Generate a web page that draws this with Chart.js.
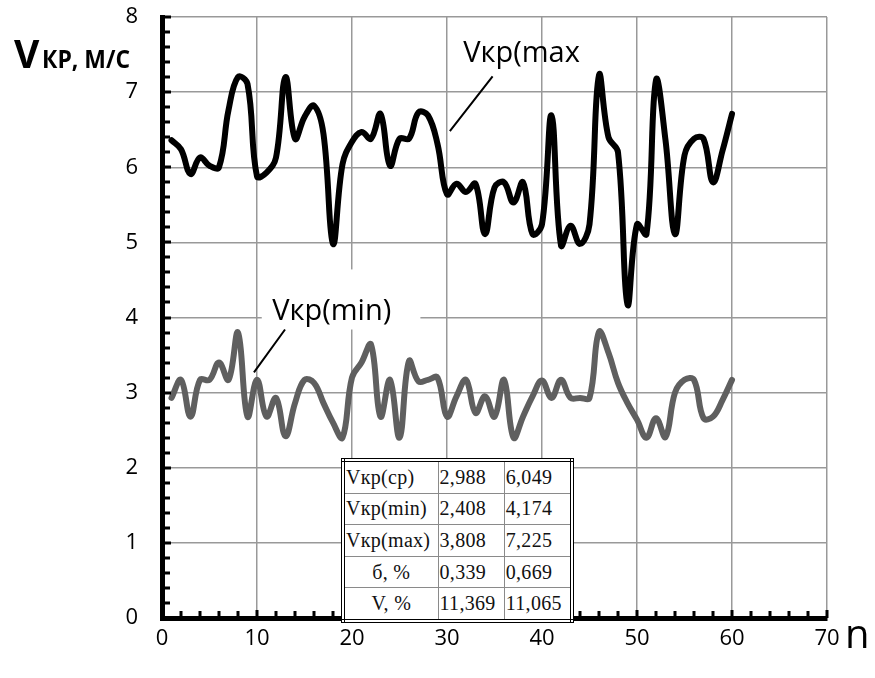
<!DOCTYPE html>
<html><head><meta charset="utf-8">
<script src="https://cdn.jsdelivr.net/npm/chart.js@4/dist/chart.umd.min.js"></script>
<style>
body{margin:0;background:#fff;}
#wrap{position:relative;width:875px;height:678px;}
#stats{position:absolute;left:341px;top:458px;width:233px;height:165px;border-collapse:collapse;background:#fff;
 font-family:"Liberation Serif","Times New Roman",serif;font-size:20px;letter-spacing:0.3px;color:#111;border:4px double #000;}
#stats td{border:1px solid #8a8a8a;padding:0 1px;height:30px;white-space:nowrap;}
#stats td.c{text-align:center;}
</style></head>
<body><div id="wrap"><canvas id="c" width="875" height="678"></canvas>
<table id="stats"><tbody></tbody></table></div>
<script>
const nValues = [1,2,3,4,5,6,7,8,9,10,11,12,13,14,15,16,17,18,19,20,21,22,23,24,25,26,27,28,29,30,
 31,32,33,34,35,36,37,38,39,40,41,42,43,44,45,46,47,48,49,50,51,52,53,54,55,56,57,58,59,60];
const vMax = [6.36,6.24,5.91,6.13,6.02,6.0,6.76,7.2,7.11,5.88,5.93,6.13,7.2,6.38,6.67,6.82,6.44,4.98,6.04,6.34,
 6.47,6.38,6.71,6.02,6.38,6.38,6.73,6.69,6.31,5.64,5.78,5.67,5.78,5.11,5.73,5.8,5.53,5.8,5.11,5.24,
 6.69,4.96,5.22,4.98,5.24,7.225,6.4,6.2,4.174,5.24,5.11,7.16,6.36,5.11,6.16,6.38,6.38,5.8,6.22,6.71];
const vMin = [2.93,3.17,2.68,3.17,3.17,3.4,3.17,3.8,2.68,3.17,2.68,2.93,2.42,2.86,3.17,3.13,2.86,2.6,2.4,3.2,
 3.4,3.64,2.68,3.17,2.4,3.42,3.15,3.17,3.2,2.68,2.95,3.17,2.73,2.95,2.68,3.17,2.4,2.68,2.95,3.16,
 2.93,3.17,2.93,2.93,2.93,3.808,3.53,3.13,2.86,2.64,2.4,2.66,2.408,3.0,3.17,3.17,2.66,2.68,2.9,3.17];
const xTicks = [0,10,20,30,40,50,60,70];
const yTicks = [0,1,2,3,4,5,6,7,8];
const tableRows = [
 ["Vкр(ср)","2,988","6,049"],
 ["Vкр(min)","2,408","4,174"],
 ["Vкр(max)","3,808","7,225"],
 ["б, %","0,339","0,669"],
 ["V, %","11,369","11,065"]
];
const yTitleBig = "V", yTitleSmall = "КР, М/С", xTitle = "n";
const labelMax = "Vкр(max", labelMin = "Vкр(min)";

const tb = document.querySelector('#stats tbody');
tableRows.forEach((r,i)=>{
  const tr=document.createElement('tr');
  r.forEach((t,j)=>{const td=document.createElement('td');td.textContent=t;
    if(j===0 && i>=3) td.className='c';
    td.style.width = j===0?'93px':'66px'; tr.appendChild(td);});
  tb.appendChild(tr);
});

const deco = {
  id:'deco',
  beforeDatasetsDraw(chart){
    const {ctx, scales:{x,y}} = chart;
    ctx.save();
    ctx.fillStyle='#fff';
    const bx=x.getPixelForValue(10.5), bx2=x.getPixelForValue(27.2);
    const by=y.getPixelForValue(4.64), by2=y.getPixelForValue(3.84);
    ctx.fillRect(bx,by,bx2-bx,by2-by);
    ctx.restore();
  },
  afterDraw(chart){
    const {ctx, scales:{x,y}, chartArea:a} = chart;
    ctx.save();
    ctx.fillStyle='#000';
    for(let k=0;k<=40;k++){
      const py=y.getPixelForValue(k*0.2);
      ctx.fillRect(a.left, Math.round(py)-1.5, (k%5===0)?9:8, 3);
    }
    for(let k=0;k<=35;k++){
      const px=x.getPixelForValue(k*2);
      ctx.fillRect(Math.round(px)-1.5, a.bottom-((k%5===0)?8:7), 3, (k%5===0)?8:7);
    }
    ctx.fillStyle='#000';
    ctx.textBaseline='alphabetic';
    ctx.font='29px "Open Sans"';
    ctx.fillText(labelMax, x.getPixelForValue(31.7), y.getPixelForValue(7.4));
    ctx.fillText(labelMin, x.getPixelForValue(11.6), y.getPixelForValue(3.97));
    ctx.strokeStyle='#000'; ctx.lineWidth=2;
    ctx.beginPath();
    ctx.moveTo(x.getPixelForValue(34.8), y.getPixelForValue(7.21));
    ctx.lineTo(x.getPixelForValue(30.3), y.getPixelForValue(6.48));
    ctx.moveTo(x.getPixelForValue(12.95), y.getPixelForValue(3.84));
    ctx.lineTo(x.getPixelForValue(9.68), y.getPixelForValue(3.27));
    ctx.stroke();
    ctx.font='bold 39px "Open Sans"';
    ctx.fillText(yTitleBig, 14, 68);
    ctx.font='bold 25px "Open Sans"';
    ctx.fillText(yTitleSmall, 42, 68, 88);
    ctx.font='40px "Open Sans"';
    ctx.fillText(xTitle, 845, 648);
    ctx.restore();
  }
};

new Chart(document.getElementById('c'), {
  type:'line',
  data:{datasets:[
    {label:'Vкр(max)', data:nValues.map((n,i)=>({x:n,y:vMax[i]})), borderColor:'#000', borderWidth:6,
     pointRadius:0, tension:0.4, fill:false, borderCapStyle:'round', borderJoinStyle:'round'},
    {label:'Vкр(min)', data:nValues.map((n,i)=>({x:n,y:vMin[i]})), borderColor:'#5f5f5f', borderWidth:6,
     pointRadius:0, tension:0.4, fill:false, borderCapStyle:'round', borderJoinStyle:'round'}
  ]},
  options:{
    responsive:false, animation:false, devicePixelRatio:1,
    layout:{padding:{top:17,right:48,left:0,bottom:0}},
    plugins:{legend:{display:false}, tooltip:{enabled:false}},
    scales:{
      x:{type:'linear', min:0, max:70,
        afterBuildTicks:s=>{s.ticks = xTicks.map(v=>({value:v}));},
        afterFit:s=>{s.height=60; s.paddingLeft=0; s.paddingRight=0;},
        grid:{color:'#999', lineWidth:1.5, drawTicks:false},
        border:{color:'#000', width:5},
        ticks:{padding:8, color:'#000', font:{family:'Open Sans', size:22}, maxRotation:0, autoSkip:false}},
      y:{type:'linear', min:0, max:8,
        afterBuildTicks:s=>{s.ticks = yTicks.map(v=>({value:v}));},
        afterFit:s=>{s.width=162; s.paddingTop=0; s.paddingBottom=0;},
        grid:{color:'#999', lineWidth:1.5, drawTicks:false},
        border:{color:'#000', width:5},
        ticks:{padding:24, color:'#000', font:{family:'Open Sans', size:22}}}
    }
  },
  plugins:[deco]
});
</script></body></html>
